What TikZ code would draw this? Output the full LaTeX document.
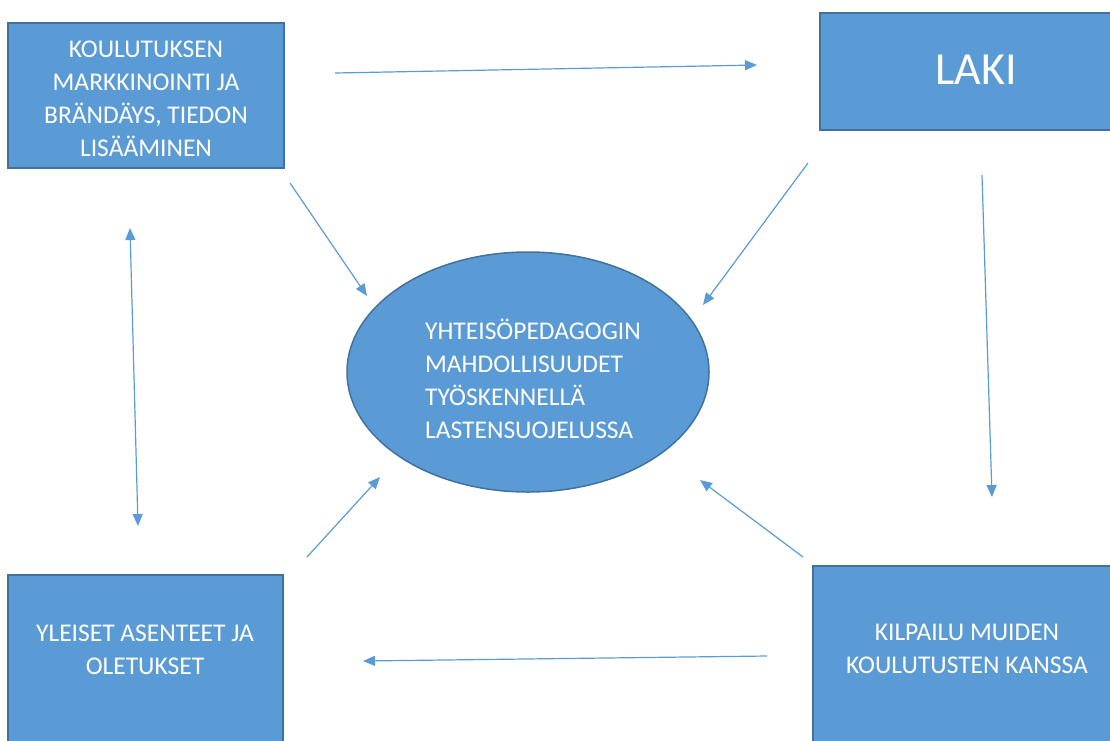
\documentclass[tikz,border=0pt]{standalone}
\usepackage{fontspec}
\setmainfont{Carlito}
\usetikzlibrary{arrows.meta, shapes.geometric}

\definecolor{boxblue}{HTML}{5B9BD5}
\definecolor{boxedge}{HTML}{41719C}

\tikzset{
  bluebox/.style={draw=boxedge, line width=1.5pt, fill=boxblue},
  boxtext/.style={text=white, align=center, font=\fontsize{25.5}{33}\selectfont},
  link/.style={draw=boxblue, line width=1.2pt, -{Triangle[length=12pt, width=10pt]}}
}

\begin{document}
\begin{tikzpicture}[x=1pt, y=-1pt]
\useasboundingbox (0,0) rectangle (1110,740);
\clip (0,0) rectangle (1110,740);

\draw[bluebox] (8,23) rectangle (284,168);
\draw[bluebox] (820,13) rectangle (1125,130);
\draw[bluebox] (8,575) rectangle (283,755);
\draw[bluebox] (813,566) rectangle (1125,755);
\draw[bluebox] (528,372) ellipse [x radius=181, y radius=120];

\node[boxtext] (markkinointi) at (146,99)
  {KOULUTUKSEN\\MARKKINOINTI JA\\BRÄNDÄYS, TIEDON\\LISÄÄMINEN};
\node[boxtext, font=\fontsize{46}{50}\selectfont] (laki) at (976,70) {LAKI};
\node[boxtext] (asenteet) at (145,650) {YLEISET ASENTEET JA\\OLETUKSET};
\node[boxtext] (kilpailu) at (967,649) {KILPAILU MUIDEN\\KOULUTUSTEN KANSSA};
\node[boxtext, align=left] (yhteiso) at (533,379)
  {YHTEISÖPEDAGOGIN\\MAHDOLLISUUDET\\TYÖSKENNELLÄ\\LASTENSUOJELUSSA};

\coordinate (mA) at (335,73);
\coordinate (mB) at (757,65);
\coordinate (mC) at (290,183);
\coordinate (mD) at (367,296);
\coordinate (lA) at (808,163);
\coordinate (lB) at (703,305);
\coordinate (lC) at (982,175);
\coordinate (lD) at (992,497);
\coordinate (vA) at (130,228);
\coordinate (vB) at (138,526);
\coordinate (aA) at (307,557);
\coordinate (aB) at (380,477);
\coordinate (kA) at (803,557);
\coordinate (kB) at (700,480);
\coordinate (kC) at (767,656);
\coordinate (kD) at (363,661);

\draw[link] (mA) -- (mB);
\draw[link] (mC) -- (mD);
\draw[link] (lA) -- (lB);
\draw[link] (lC) -- (lD);
\draw[link, {Triangle[length=12pt, width=10pt]}-{Triangle[length=12pt, width=10pt]}] (vA) -- (vB);
\draw[link] (aA) -- (aB);
\draw[link] (kA) -- (kB);
\draw[link] (kC) -- (kD);
\end{tikzpicture}
\end{document}
